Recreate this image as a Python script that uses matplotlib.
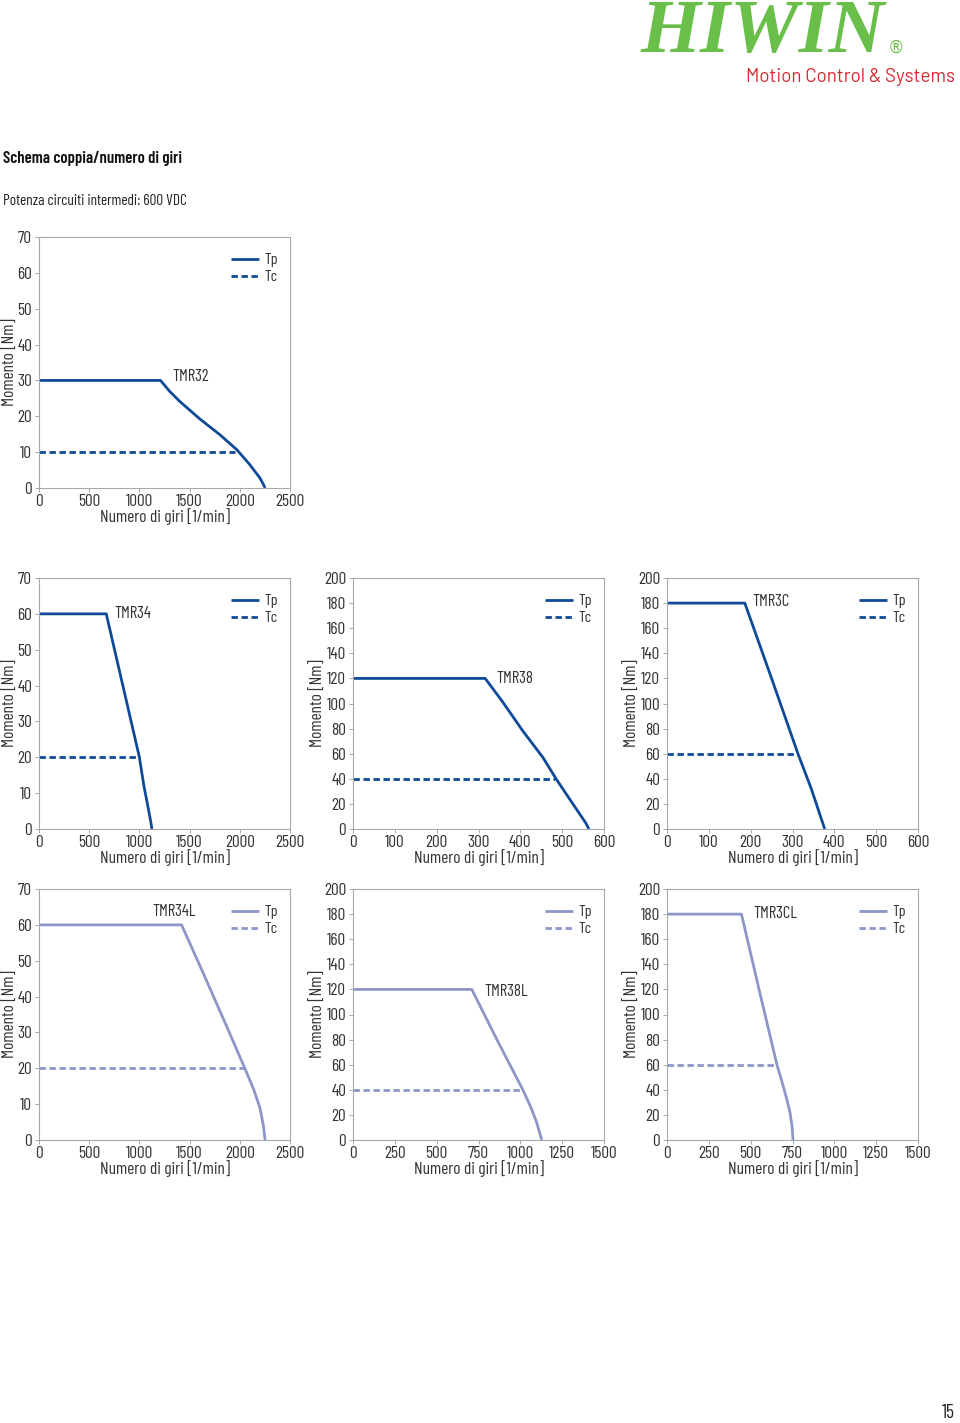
import matplotlib
matplotlib.use("Agg")
import matplotlib.pyplot as plt

plt.rcParams['font.family'] = ['Barlow Condensed', 'DejaVu Sans']

dark = '#0e4a97'
light = '#8c96c8'
txt = '#333333'

# Tp curves (rpm, Nm) and Tc levels
tmr32_rpm = [0, 1210, 1300, 1400, 1600, 1800, 1970, 2100, 2200, 2235, 2252]
tmr32_tp = [30, 30, 27, 24.2, 19.3, 14.9, 10.7, 6.5, 2.8, 1.0, 0]
tmr32_tc, tmr32_tc_end = 10, 1950

tmr34_rpm = [0, 670, 835, 1000, 1045, 1080, 1110, 1125]
tmr34_tp = [60, 60, 40, 20, 12, 7, 2.5, 0]
tmr34_tc, tmr34_tc_end = 20, 1000

tmr38_rpm = [0, 316, 359, 406, 454, 486, 518, 542, 556, 564]
tmr38_tp = [120, 120, 100.7, 78.1, 57, 39.7, 23.8, 11.9, 5, 0]
tmr38_tc, tmr38_tc_end = 40, 482

tmr3c_rpm = [0, 186, 250, 313, 345, 365, 377]
tmr3c_tp = [180, 180, 120, 60, 32, 12, 0]
tmr3c_tc, tmr3c_tc_end = 60, 313

tmr34l_rpm = [0, 1420, 1660, 1880, 2050, 2140, 2200, 2235, 2252]
tmr34l_tp = [60, 60, 45, 31, 20, 14, 9, 4, 0]
tmr34l_tc, tmr34l_tc_end = 20, 2050

tmr38l_rpm = [0, 710, 860, 1015, 1060, 1095, 1115, 1128]
tmr38l_tp = [120, 120, 80, 40, 27, 15, 6, 0]
tmr38l_tc, tmr38l_tc_end = 40, 1015

tmr3cl_rpm = [0, 445, 550, 657, 690, 715, 735, 748, 753]
tmr3cl_tp = [180, 180, 120, 60, 45, 33, 22, 10, 0]
tmr3cl_tc, tmr3cl_tc_end = 60, 657

W, H = 960, 1423
fig = plt.figure(figsize=(W / 100, H / 100), dpi=100)


def panel(px_left, px_top, rpm, tp, tc, tc_end, xmax, xstep, ymax, ystep,
          name, name_xy, color, ylab_x):
    ax = fig.add_axes([px_left / W, 1 - (px_top + 251) / H, 251 / W, 251 / H])
    ax.plot(rpm, tp, color=color, lw=2.0, label='Tp', solid_capstyle='butt')
    ax.plot([0, tc_end], [tc, tc], color=color, lw=2.0, ls=(0, (2.3, 1.3)),
            label='Tc')
    ax.set_xlim(0, xmax)
    ax.set_ylim(0, ymax)
    ax.set_xticks(range(0, xmax + 1, xstep))
    ax.set_yticks(range(0, ymax + 1, ystep))
    for s in ax.spines.values():
        s.set_color('#a8a8a8')
        s.set_linewidth(0.8)
    ax.tick_params(length=3, width=0.7, color='#a8a8a8', labelsize=12.5,
                   labelcolor=txt, pad=2)
    ax.tick_params(axis='x', pad=1)
    ax.set_xlabel('Numero di giri [1/min]', fontsize=12.5, color=txt, va='center')
    ax.set_ylabel('Momento [Nm]', fontsize=12.5, color=txt, va='center')
    ax.xaxis.set_label_coords(0.5, -0.114)
    ax.yaxis.set_label_coords(ylab_x, 0.5)
    ax.text(name_xy[0], name_xy[1], name, fontsize=12, color=txt,
            va='center', ha='left')
    ax.legend(loc='upper left', bbox_to_anchor=(0.765, 0.936), frameon=False,
              fontsize=11.5, handlelength=1.75, handletextpad=0.35,
              labelspacing=0.18, borderpad=0, borderaxespad=0,
              labelcolor=txt)
    return ax


panel(39, 237, tmr32_rpm, tmr32_tp, tmr32_tc, tmr32_tc_end, 2500, 500, 70, 10,
      'TMR32', (1325, 31), dark, -0.117)
panel(39, 578, tmr34_rpm, tmr34_tp, tmr34_tc, tmr34_tc_end, 2500, 500, 70, 10,
      'TMR34', (747, 60.2), dark, -0.117)
panel(353, 578, tmr38_rpm, tmr38_tp, tmr38_tc, tmr38_tc_end, 600, 100, 200, 20,
      'TMR38', (342, 120.3), dark, -0.14)
panel(667, 578, tmr3c_rpm, tmr3c_tp, tmr3c_tc, tmr3c_tc_end, 600, 100, 200, 20,
      'TMR3C', (203, 181), dark, -0.14)
panel(39, 889, tmr34l_rpm, tmr34l_tp, tmr34l_tc, tmr34l_tc_end, 2500, 500, 70, 10,
      'TMR34L', (1125, 63.6), light, -0.117)
panel(353, 889, tmr38l_rpm, tmr38l_tp, tmr38l_tc, tmr38l_tc_end, 1500, 250, 200, 20,
      'TMR38L', (783, 118.7), light, -0.14)
panel(667, 889, tmr3cl_rpm, tmr3cl_tp, tmr3cl_tc, tmr3cl_tc_end, 1500, 250, 200, 20,
      'TMR3CL', (514, 180.5), light, -0.14)

# header
fig.text(641 / W, 1 - 52 / H, 'HIWIN', fontsize=55.5, family='Liberation Serif',
         weight='bold', style='italic', color='#6abf4b', va='baseline', ha='left')
fig.text(888 / W, 1 - 53 / H, '®', fontsize=12, family='DejaVu Sans',
         color='#6abf4b', va='baseline', ha='left')
fig.text(955 / W, 1 - 77 / H, 'Motion Control & Systems', fontsize=13.5,
         family=['Barlow', 'DejaVu Sans'], color='#d7282f', va='center', ha='right')
fig.text(3 / W, 1 - 159 / H, 'Schema coppia/numero di giri', fontsize=12,
         weight='semibold', color='#111111', va='center', ha='left')
fig.text(3 / W, 1 - 201 / H, 'Potenza circuiti intermedi: 600 VDC', fontsize=11,
         color='#222222', va='center', ha='left')
fig.text(955 / W, 1 - 1413 / H, '15', fontsize=14, color='#222222',
         va='center', ha='right')

fig.savefig('out.png', dpi=100)
